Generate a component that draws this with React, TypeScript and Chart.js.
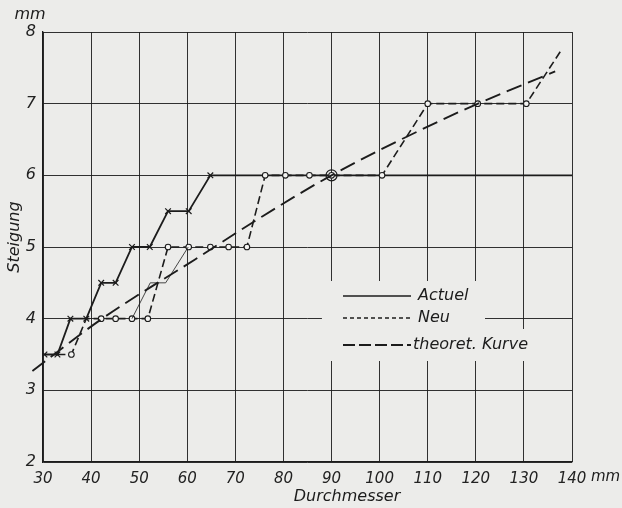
import React, { useEffect, useRef } from "react";
import { Chart, registerables } from "chart.js";

Chart.register(...registerables);

const xTicks = [30, 40, 50, 60, 70, 80, 90, 100, 110, 120, 130, 140];
const yTicks = [2, 3, 4, 5, 6, 7, 8];

const actuelX = [30.3, 33, 35.7, 39, 42.1, 45.1, 48.5, 52.2, 56, 60.3, 64.8, 140];
const actuelY = [3.5, 3.5, 4, 4, 4.5, 4.5, 5, 5, 5.5, 5.5, 6, 6];
const actuelMarks = [1, 1, 1, 1, 1, 1, 1, 1, 1, 1, 1, 0];

const neuX = [33, 35.9, 39, 42.1, 45.1, 48.5, 51.8, 56, 60.3, 64.8, 68.6, 72.4, 76.2, 80.4, 85.4, 90, 100.5, 110, 120.4, 130.5, 137.9];
const neuY = [3.5, 3.5, 4, 4, 4, 4, 4, 5, 5, 5, 5, 5, 6, 6, 6, 6, 6, 7, 7, 7, 7.76];
const neuMarks = [0, 1, 0, 1, 1, 1, 1, 1, 1, 1, 1, 1, 1, 1, 1, 1, 1, 1, 1, 1, 0];

const thinX = [48.5, 52.3, 55.5, 60.2];
const thinY = [4, 4.5, 4.5, 5];

const theoX = [27.8, 42.3, 61.7, 75.2, 90, 116.4, 136.5];
const theoY = [3.27, 4.0, 4.83, 5.41, 6.0, 6.88, 7.45];

const ringX = [90];
const ringY = [6];

const legendLabels = ["Actuel", "Neu", "theoret. Kurve"];
const xTitle = "Durchmesser";
const yTitle = "Steigung";
const unit = "mm";

const INK = "#1c1c1c";
const FONT = "'DejaVu Sans', sans-serif";

const zip = (xs: number[], ys: number[]) => xs.map((x, i) => ({ x, y: ys[i] }));

const decor = {
  id: "decor",
  afterDraw(chart: any) {
    const ctx = chart.ctx;
    const xs = chart.scales.x;
    const area = chart.chartArea;
    ctx.save();
    ctx.fillStyle = "#ececea";
    const lx0 = xs.getPixelForValue(88);
    ctx.fillRect(lx0, 281, 485 - lx0, 80);
    ctx.fillRect(485, 329, 57, 32);
    const entries = [
      { y: 296, dash: [], w: 1.4 },
      { y: 318, dash: [4, 3], w: 1.3 },
      { y: 345, dash: [12, 4], w: 2 },
    ];
    ctx.strokeStyle = INK;
    entries.forEach((e, i) => {
      ctx.beginPath();
      ctx.setLineDash(e.dash);
      ctx.lineWidth = e.w;
      ctx.moveTo(343, e.y);
      ctx.lineTo(411, e.y);
      ctx.stroke();
      ctx.setLineDash([]);
      ctx.fillStyle = INK;
      ctx.font = "italic 16px " + FONT;
      ctx.textBaseline = "middle";
      ctx.textAlign = "left";
      ctx.fillText(legendLabels[i], i === 2 ? 413 : 418, e.y);
    });
    ctx.font = "italic 16px " + FONT;
    ctx.textAlign = "center";
    ctx.fillText(xTitle, 347, 497);
    ctx.fillText(unit, 30, 15);
    ctx.font = "italic 15px " + FONT;
    ctx.textAlign = "left";
    ctx.fillText(unit, area.right + 19, 477);
    ctx.translate(15, 237);
    ctx.rotate(-Math.PI / 2);
    ctx.textAlign = "center";
    ctx.font = "italic 16px " + FONT;
    ctx.fillText(yTitle, 0, 0);
    ctx.restore();
  },
};

export default function App() {
  const ref = useRef<HTMLCanvasElement | null>(null);
  useEffect(() => {
    if (!ref.current) return;
    const chart = new Chart(ref.current, {
      type: "line",
      data: {
        datasets: [
          {
            label: "thin",
            data: zip(thinX, thinY),
            borderColor: INK,
            borderWidth: 0.8,
            pointRadius: 0,
            fill: false,
          },
          {
            label: legendLabels[2],
            data: zip(theoX, theoY),
            borderColor: INK,
            borderWidth: 1.9,
            borderDash: [16, 7],
            pointRadius: 0,
            cubicInterpolationMode: "monotone",
            clip: false,
            fill: false,
          },
          {
            label: legendLabels[1],
            data: zip(neuX, neuY),
            borderColor: INK,
            borderWidth: 1.6,
            borderDash: [8, 4],
            pointStyle: "circle",
            pointRadius: neuMarks.map((m) => (m ? 2.8 : 0)),
            pointBackgroundColor: "#f4f4f2",
            pointBorderColor: INK,
            pointBorderWidth: 1.1,
            fill: false,
          },
          {
            label: "ring",
            data: zip(ringX, ringY),
            showLine: false,
            pointStyle: "circle",
            pointRadius: 5.5,
            pointBackgroundColor: "rgba(0,0,0,0)",
            pointBorderColor: INK,
            pointBorderWidth: 1.2,
          },
          {
            label: legendLabels[0],
            data: zip(actuelX, actuelY),
            borderColor: INK,
            borderWidth: 1.8,
            pointStyle: "crossRot",
            pointRadius: actuelMarks.map((m) => (m ? 4 : 0)),
            pointBorderColor: INK,
            pointBorderWidth: 1.2,
            fill: false,
          },
        ],
      },
      options: {
        animation: false,
        responsive: false,
        maintainAspectRatio: false,
        layout: { padding: { left: 0, top: 32, right: 50, bottom: 0 } },
        plugins: { legend: { display: false }, tooltip: { enabled: false } },
        scales: {
          x: {
            type: "linear",
            min: 30,
            max: 140,
            afterBuildTicks: (s: any) => {
              s.ticks = xTicks.map((v) => ({ value: v }));
            },
            afterFit: (s: any) => {
              s.height = 46;
            },
            grid: { color: INK, lineWidth: 0.9, drawTicks: false },
            border: { color: INK, width: 1.3 },
            ticks: {
              color: "#222",
              font: { family: FONT, size: 15, style: "italic" },
              padding: 8,
              autoSkip: false,
              maxRotation: 0,
            },
          },
          y: {
            type: "linear",
            min: 2,
            max: 8,
            afterBuildTicks: (s: any) => {
              s.ticks = yTicks.map((v) => ({ value: v }));
            },
            afterFit: (s: any) => {
              s.width = 43;
            },
            grid: { color: INK, lineWidth: 0.9, drawTicks: false },
            border: { color: INK, width: 1.3 },
            ticks: {
              color: "#222",
              font: { family: FONT, size: 16, style: "italic" },
              padding: 7,
            },
          },
        },
      },
      plugins: [decor],
    } as any);
    return () => chart.destroy();
  }, []);
  return (
    <div
      style={{
        position: "fixed",
        left: 0,
        top: 0,
        width: 622,
        height: 508,
        background: "#ececea",
      }}
    >
      <canvas ref={ref} width={622} height={508} style={{ width: 622, height: 508, display: "block" }} />
    </div>
  );
}
